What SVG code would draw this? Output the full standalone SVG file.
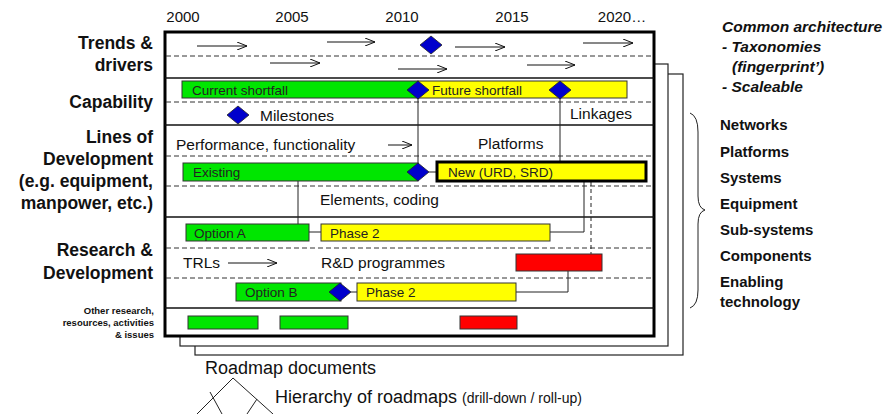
<svg xmlns="http://www.w3.org/2000/svg" width="892" height="414" viewBox="0 0 892 414">
<defs>
<style>
text{font-family:"Liberation Sans",Arial,sans-serif;fill:#111}
.yr{font-size:15px}
.lbl{font-size:17.5px;font-weight:bold;text-anchor:end}
.sm{font-size:9.5px;font-weight:bold;text-anchor:end}
.bt{font-size:15.5px}
.bar{font-size:13.5px;fill:#222}
.rt{font-size:15.5px;font-weight:bold;font-style:italic}
.ls{font-size:15px;font-weight:bold}
.frame{fill:#fff;stroke:#222;stroke-width:1.2}
.main{fill:#fff;stroke:#000;stroke-width:3}
.sep{stroke:#111;stroke-width:1.5}
.dash{stroke:#333;stroke-width:1;stroke-dasharray:5,3}
.g{fill:#00e600;stroke:#333;stroke-width:1}
.y{fill:#ffff00;stroke:#333;stroke-width:1}
.r{fill:#ff0000;stroke:#333;stroke-width:1}
.dm{fill:#0000cc;stroke:#222;stroke-width:0.8}
.ln{stroke:#222;stroke-width:1;fill:none}
.arr{stroke:#111;stroke-width:1;fill:none;marker-end:url(#ah)}
</style>
<marker id="ah" viewBox="0 0 10 8" refX="10" refY="4" markerWidth="10" markerHeight="8" markerUnits="userSpaceOnUse" orient="auto">
<path d="M0,0 L10,4 L0,8" fill="none" stroke="#111" stroke-width="1"/>
</marker>
</defs>

<g id="frames">
<rect class="frame" x="195" y="74" width="488" height="281"/>
<rect class="frame" x="180" y="64" width="488" height="282"/>
<rect class="main" x="165" y="32" width="489" height="304"/>
<line class="sep" x1="165" y1="78" x2="654" y2="78"/>
<line class="sep" x1="165" y1="125" x2="654" y2="125"/>
<line class="sep" x1="165" y1="217" x2="654" y2="217"/>
<line class="sep" x1="165" y1="308" x2="654" y2="308"/>
<line class="dash" x1="166" y1="56" x2="653" y2="56"/>
<line class="dash" x1="166" y1="102" x2="653" y2="102"/>
<line class="dash" x1="166" y1="156" x2="653" y2="156"/>
<line class="dash" x1="166" y1="186" x2="653" y2="186"/>
<line class="dash" x1="166" y1="248" x2="653" y2="248"/>
<line class="dash" x1="166" y1="278" x2="653" y2="278"/>
</g>

<g id="years">
<text class="yr" x="183" y="22" text-anchor="middle">2000</text>
<text class="yr" x="292" y="22" text-anchor="middle">2005</text>
<text class="yr" x="402" y="22" text-anchor="middle">2010</text>
<text class="yr" x="512" y="22" text-anchor="middle">2015</text>
<text class="yr" x="622" y="22" text-anchor="middle">2020…</text>
</g>

<g id="row-labels">
<text class="lbl" x="153" y="49">Trends &amp;</text>
<text class="lbl" x="153" y="71">drivers</text>
<text class="lbl" x="153" y="108">Capability</text>
<text class="lbl" x="153" y="143">Lines of</text>
<text class="lbl" x="153" y="165">Development</text>
<text class="lbl" x="153" y="187">(e.g. equipment,</text>
<text class="lbl" x="153" y="209">manpower, etc.)</text>
<text class="lbl" x="153" y="256">Research &amp;</text>
<text class="lbl" x="153" y="279">Development</text>
<text class="sm" x="154" y="314">Other research,</text>
<text class="sm" x="154" y="326">resources, activities</text>
<text class="sm" x="154" y="338">&amp; issues</text>
</g>

<g id="connectors">
<line class="arr" x1="197" y1="46" x2="247" y2="46"/>
<line class="arr" x1="327" y1="42" x2="375" y2="42"/>
<line class="arr" x1="455" y1="47" x2="505" y2="47"/>
<line class="arr" x1="583" y1="43" x2="633" y2="43"/>
<line class="arr" x1="270" y1="63" x2="320" y2="63"/>
<line class="arr" x1="398" y1="69" x2="447" y2="69"/>
<line class="arr" x1="527" y1="65" x2="575" y2="65"/>
<line class="arr" x1="388" y1="145" x2="412" y2="145"/>
<line class="arr" x1="228" y1="263" x2="277" y2="263"/>
<line class="ln" x1="418" y1="90" x2="418" y2="172"/>
<line class="ln" x1="560" y1="90" x2="560" y2="161"/>
<line class="ln" x1="429" y1="172" x2="436" y2="172"/>
<line class="ln" x1="298" y1="181" x2="298" y2="224"/>
<polyline class="ln" points="584,182 584,232 550,232"/>
<line class="ln" x1="591" y1="182" x2="591" y2="254" stroke-dasharray="4,3"/>
<line class="ln" x1="309" y1="232" x2="321" y2="232"/>
<line class="ln" x1="351" y1="292" x2="357" y2="292"/>
<polyline class="ln" points="516,292 568,292 568,271"/>
</g>

<g id="capability">
<rect class="g" x="182" y="81" width="236" height="17"/>
<text class="bar" x="192" y="94.5">Current shortfall</text>
<rect class="y" x="418" y="81" width="209" height="17"/>
<text class="bar" x="432" y="94.5">Future shortfall</text>
</g>

<g id="texts">
<text class="bt" x="260" y="121">Milestones</text>
<text class="bt" x="570" y="119">Linkages</text>
<text class="bt" x="176" y="150">Performance, functionality</text>
<text class="bt" x="478" y="149">Platforms</text>
<text class="bt" x="320" y="205">Elements, coding</text>
<text class="bt" x="183" y="268">TRLs</text>
<text class="bt" x="321" y="268">R&amp;D programmes</text>
</g>

<g id="lines-of-development">
<rect class="g" x="183" y="163" width="235" height="18"/>
<text class="bar" x="193" y="176.5">Existing</text>
<rect x="437" y="162" width="209" height="19" fill="#ffff00" stroke="#000" stroke-width="3"/>
<text class="bar" x="448" y="176.5">New (URD, SRD)</text>
</g>

<g id="research">
<rect class="g" x="186" y="224" width="123" height="17"/>
<text class="bar" x="194" y="237.5">Option A</text>
<rect class="y" x="321" y="224" width="229" height="17"/>
<text class="bar" x="330" y="237.5">Phase 2</text>
<rect class="r" x="516" y="254" width="86" height="17"/>
<rect class="g" x="236" y="283" width="105" height="18"/>
<text class="bar" x="245" y="297">Option B</text>
<rect class="y" x="357" y="283" width="159" height="18"/>
<text class="bar" x="366" y="297">Phase 2</text>
</g>

<g id="other">
<rect class="g" x="188" y="316" width="70" height="13"/>
<rect class="g" x="280" y="316" width="68" height="13"/>
<rect class="r" x="460" y="316" width="57" height="13"/>
</g>

<g id="diamonds">
<polygon class="dm" points="431,36 442,45 431,54 420,45"/>
<polygon class="dm" points="418,81 429,90 418,99 407,90"/>
<polygon class="dm" points="560,81 571,90 560,99 549,90"/>
<polygon class="dm" points="238,106 249,115 238,124 227,115"/>
<polygon class="dm" points="418,163 429,172 418,181 407,172"/>
<polygon class="dm" points="340,283 351,292 340,301 329,292"/>
</g>

<g id="architecture">
<text class="rt" x="722" y="32">Common architecture</text>
<text class="rt" x="722" y="52">- Taxonomies</text>
<text class="rt" x="732" y="72">(fingerprint’)</text>
<text class="rt" x="722" y="92">- Scaleable</text>
</g>

<g id="brace">
<path class="ln" stroke-width="1.5" d="M690,113 Q698,116 698,132 L698,196 Q698,208 705,210 Q698,212 698,224 L698,290 Q698,305 690,308"/>
</g>

<g id="levels">
<text class="ls" x="720" y="130">Networks</text>
<text class="ls" x="720" y="157">Platforms</text>
<text class="ls" x="720" y="183">Systems</text>
<text class="ls" x="720" y="209">Equipment</text>
<text class="ls" x="720" y="235">Sub-systems</text>
<text class="ls" x="720" y="261">Components</text>
<text class="ls" x="720" y="287">Enabling</text>
<text class="ls" x="720" y="307">technology</text>
</g>

<g id="hierarchy">
<text x="205" y="374" font-size="18">Roadmap documents</text>
<polyline class="ln" stroke-width="1.8" points="197,414 233,378 273,414"/>
<line class="ln" stroke-width="1.8" x1="210" y1="392" x2="222" y2="414"/>
<line class="ln" stroke-width="1.8" x1="257" y1="399" x2="247" y2="414"/>
<text x="275" y="403" font-size="18">Hierarchy of roadmaps <tspan font-size="14">(drill-down / roll-up)</tspan></text>
</g>
</svg>
